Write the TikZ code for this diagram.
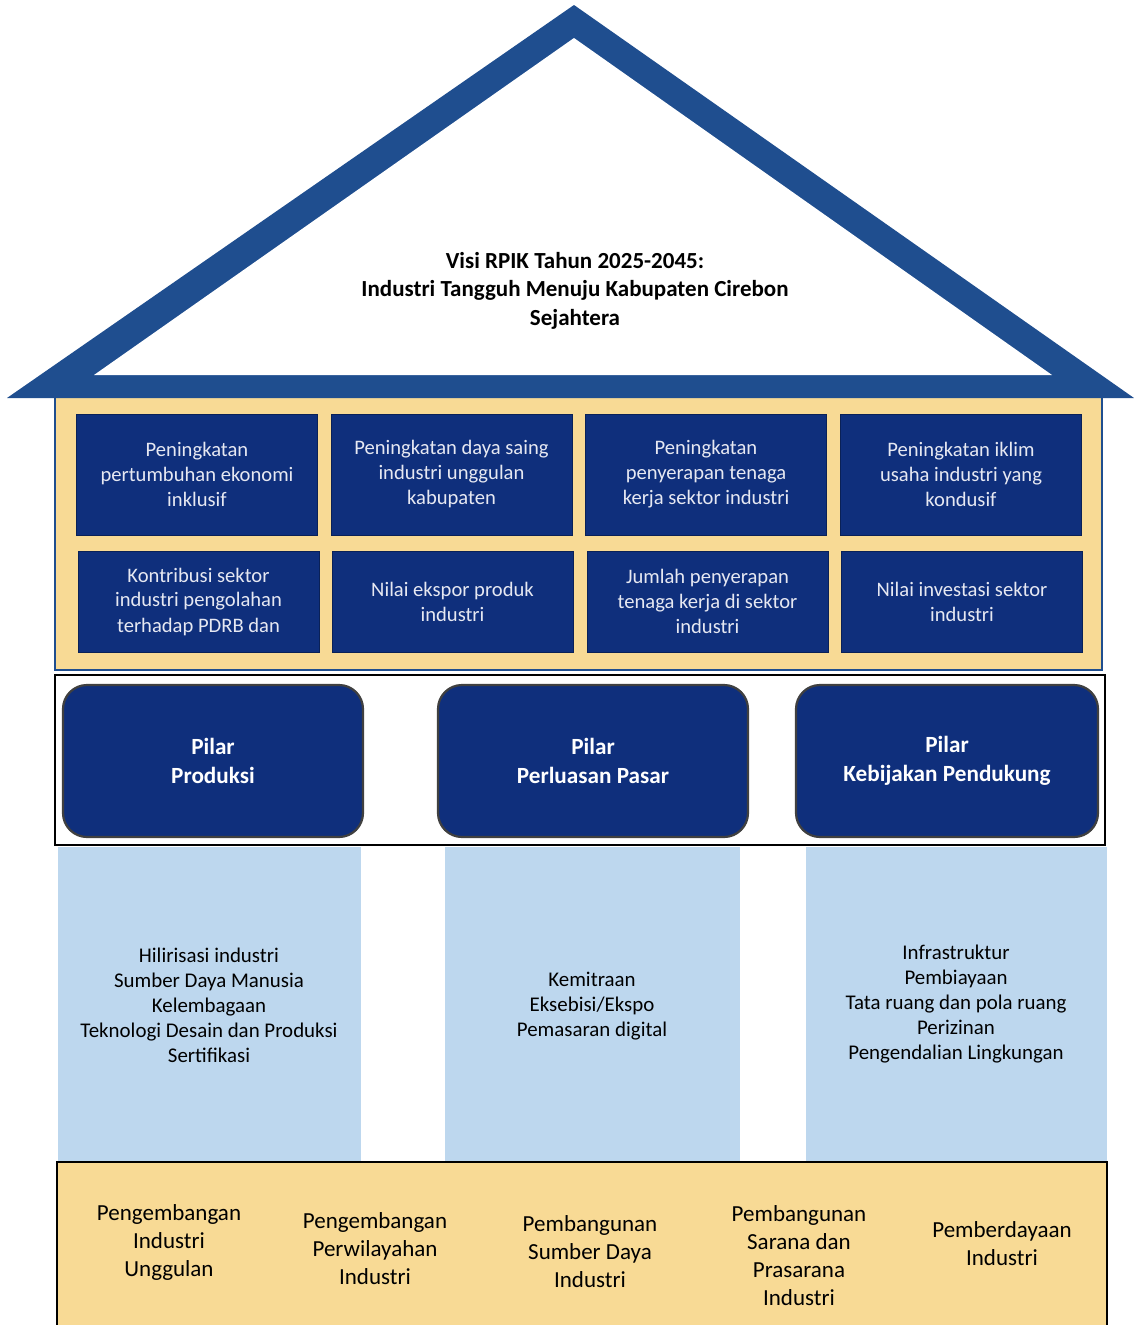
\documentclass[tikz,border=0pt]{standalone}
\usepackage{fontspec}
\setmainfont{Carlito}
\definecolor{roofblue}{HTML}{1F4E8F}
\definecolor{navy}{HTML}{0F2F7C}
\definecolor{gold}{HTML}{F8DA95}
\definecolor{lblue}{HTML}{BDD7EE}
\definecolor{boxtext}{HTML}{E6E8F2}
\begin{document}
\begin{tikzpicture}[x=1pt,y=-1pt,
  goal/.style={fill=navy, draw=navy!70!black, line width=0.8pt, minimum width=241pt, text=boxtext, align=center,
    font=\fontsize{20.6}{25}\selectfont, inner sep=0pt},
  pillar/.style={fill=navy, draw=black!75, line width=2.2pt, rounded corners=24pt, minimum height=152pt,
    text=white, align=center, font=\fontsize{23.2}{29}\selectfont\bfseries, inner sep=0pt},
  coltext/.style={align=center, text=black, font=\fontsize{20.9}{25}\selectfont, inner sep=0pt},
  basetext/.style={align=center, text=black, font=\fontsize{23}{28}\selectfont, inner sep=0pt},
  rooftext/.style={align=center, text=black, font=\fontsize{23}{28.5}\selectfont\bfseries, inner sep=0pt}
]
\useasboundingbox (0,0) rectangle (1134,1325);
\fill[white] (0,0) rectangle (1134,1325);

% body (gold)
\filldraw[fill=gold, draw=roofblue, line width=1.5pt] (55,392) rectangle (1102,670);

% roof
\fill[roofblue] (574,5) -- (1134,398) -- (7,398) -- cycle;
\fill[white] (574,38) -- (1052,375) -- (94,375) -- cycle;
\node[rooftext] (vision) at (575,290.5) {Visi RPIK Tahun 2025-2045:\\Industri Tangguh Menuju Kabupaten Cirebon\\Sejahtera};

% goals row 1
\node[goal, minimum height=121pt] (g1) at (197,474.5) {Peningkatan\\pertumbuhan ekonomi\\inklusif};
\node[goal, minimum height=121pt] (g2) at (451.5,474.5) {Peningkatan daya saing\\industri unggulan\\kabupaten};
\node[goal, minimum height=121pt] (g3) at (706,474.5) {Peningkatan\\penyerapan tenaga\\kerja sektor industri};
\node[goal, minimum height=121pt] (g4) at (961,474.5) {Peningkatan iklim\\usaha industri yang\\kondusif};
% goals row 2
\node[goal, minimum height=101pt] (h1) at (198.5,601.5) {Kontribusi sektor\\industri pengolahan\\terhadap PDRB dan};
\node[goal, minimum height=101pt] (h2) at (452.5,601.5) {Nilai ekspor produk\\industri};
\node[goal, minimum height=101pt] (h3) at (707.5,601.5) {Jumlah penyerapan\\tenaga kerja di sektor\\industri};
\node[goal, minimum height=101pt] (h4) at (962,601.5) {Nilai investasi sektor\\industri};

% pillar frame
\draw[black, line width=2.5pt] (55,675) rectangle (1105,845);
\node[pillar, minimum width=300pt] (p1) at (213,761) {Pilar\\Produksi};
\node[pillar, minimum width=310pt] (p2) at (593,761) {Pilar\\Perluasan Pasar};
\node[pillar, minimum width=302pt] (p3) at (947,761) {Pilar\\Kebijakan Pendukung};

% columns
\fill[lblue] (58,847) rectangle (361,1161);
\fill[lblue] (445,847) rectangle (740,1161);
\fill[lblue] (806,847) rectangle (1107,1161);
\node[coltext] (c1) at (209,1005) {Hilirisasi industri\\Sumber Daya Manusia\\Kelembagaan\\Teknologi Desain dan Produksi\\Sertifikasi};
\node[coltext] (c2) at (592,1006) {Kemitraan\\Eksebisi/Ekspo\\Pemasaran digital};
\node[coltext] (c3) at (956,1004) {Infrastruktur\\Pembiayaan\\Tata ruang dan pola ruang\\Perizinan\\Pengendalian Lingkungan};

% base
\fill[gold] (57,1162) rectangle (1107,1330);
\draw[black, line width=2pt] (57,1330) -- (57,1162) -- (1107,1162) -- (1107,1330);
\node[basetext] (b1) at (169,1242) {Pengembangan\\Industri\\Unggulan};
\node[basetext] (b2) at (375,1249) {Pengembangan\\Perwilayahan\\Industri};
\node[basetext] (b3) at (590,1252) {Pembangunan\\Sumber Daya\\Industri};
\node[basetext] (b4) at (799,1256) {Pembangunan\\Sarana dan\\Prasarana\\Industri};
\node[basetext] (b5) at (1002,1244) {Pemberdayaan\\Industri};
\end{tikzpicture}
\end{document}
